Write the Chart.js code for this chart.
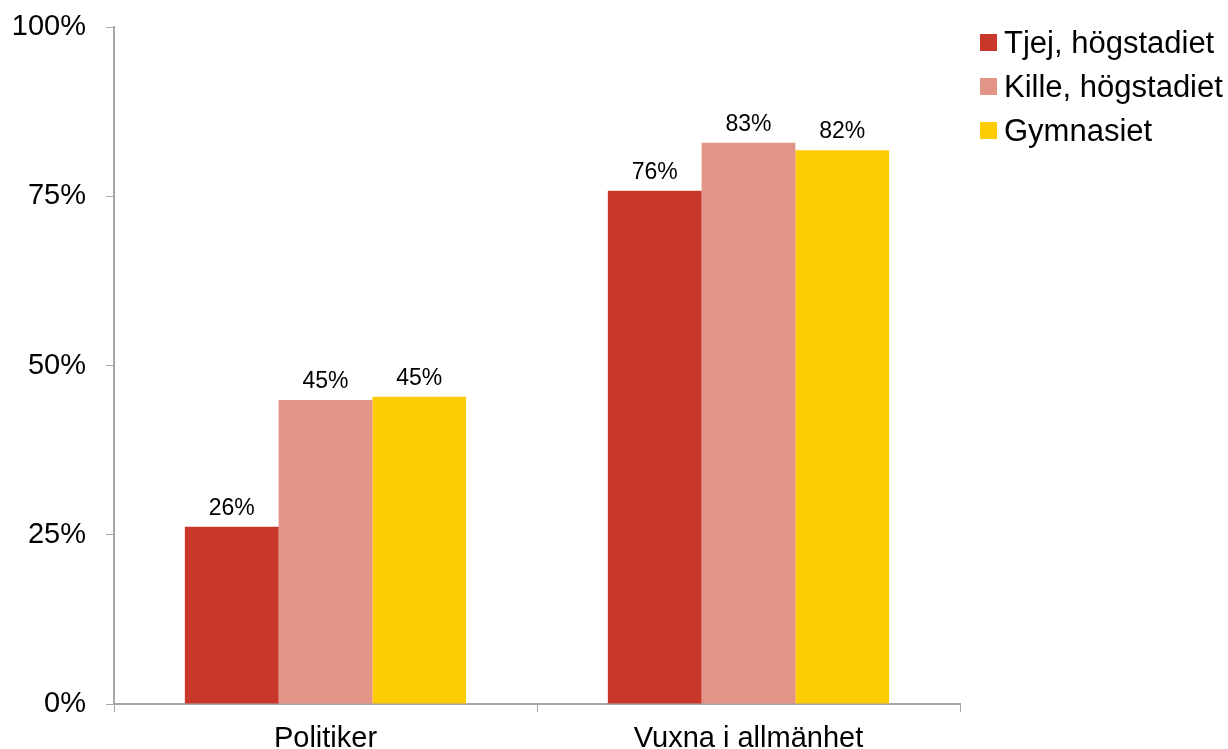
<!DOCTYPE html>
<html>
<head>
<meta charset="utf-8">
<script src="https://cdn.jsdelivr.net/npm/chart.js@4"></script>
<style>
  html, body { margin: 0; padding: 0; background: #fff; }
  #wrap { position: relative; width: 1228px; height: 749px; overflow: hidden; }
  #legend { position: absolute; left: 980px; top: 27px; font-family: "Liberation Sans", Arial, sans-serif; font-size: 31px; color: #000; }
  .item { position: relative; height: 44px; line-height: 31px; white-space: nowrap; }
  .box { position: absolute; left: 0; top: 7px; width: 17px; height: 17px; }
  .lbl { position: absolute; left: 24px; top: 0; }
</style>
</head>
<body>
<div id="wrap">
  <canvas id="c" width="1228" height="749"></canvas>
  <div id="legend"></div>
</div>
<script>
const categories = ["Politiker", "Vuxna i allmänhet"];
const seriesNames = ["Tjej, högstadiet", "Kille, högstadiet", "Gymnasiet"];
const tjejValues = [26.2, 75.8];
const killeValues = [44.9, 82.9];
const gymnasietValues = [45.4, 81.8];
const tjejLabels = ["26%", "76%"];
const killeLabels = ["45%", "83%"];
const gymnasietLabels = ["45%", "82%"];
const yTicks = [0, 25, 50, 75, 100];
const colors = ["#C9372A", "#E29486", "#FECC05"];

const seriesValues = [tjejValues, killeValues, gymnasietValues];
const seriesLabels = [tjejLabels, killeLabels, gymnasietLabels];

const FONT = '"Liberation Sans", Arial, sans-serif';
const AXIS = '#a6a6a6';

const legendEl = document.getElementById('legend');
seriesNames.forEach((n, i) => {
  const d = document.createElement('div');
  d.className = 'item';
  d.innerHTML = '<span class="box" style="background:' + colors[i] + '"></span><span class="lbl"></span>';
  d.querySelector('.lbl').textContent = n;
  legendEl.appendChild(d);
});

const valueLabels = {
  id: 'valueLabels',
  afterDatasetsDraw(chart) {
    const ctx = chart.ctx;
    ctx.save();
    ctx.font = '23px ' + FONT;
    ctx.fillStyle = '#000';
    ctx.textAlign = 'center';
    ctx.textBaseline = 'alphabetic';
    chart.data.datasets.forEach((ds, di) => {
      chart.getDatasetMeta(di).data.forEach((bar, i) => {
        ctx.fillText(seriesLabels[di][i], bar.x, bar.y - 12);
      });
    });
    ctx.restore();
  }
};

new Chart(document.getElementById('c'), {
  type: 'bar',
  data: {
    labels: categories,
    datasets: seriesNames.map((n, i) => ({
      label: n,
      data: seriesValues[i],
      backgroundColor: colors[i],
      borderWidth: 0,
      categoryPercentage: 0.665,
      barPercentage: 1.0
    }))
  },
  options: {
    responsive: false,
    animation: false,
    devicePixelRatio: 1,
    layout: { padding: { top: 27, right: 268, bottom: 0, left: 0 } },
    plugins: { legend: { display: false }, tooltip: { enabled: false } },
    scales: {
      x: {
        afterFit(s) { s.height = 45; s.paddingLeft = 0; s.paddingRight = 0; },
        grid: { offset: true, drawOnChartArea: false, drawTicks: true, tickLength: 8, color: AXIS, lineWidth: 1 },
        border: { display: true, color: AXIS, width: 2 },
        ticks: { font: { family: FONT, size: 29 }, color: '#000', padding: 10, maxRotation: 0 }
      },
      y: {
        min: 0, max: 100,
        afterFit(s) { s.width = 114; s.paddingTop = 0; s.paddingBottom = 0; },
        afterBuildTicks(s) { s.ticks = yTicks.map(v => ({ value: v })); },
        grid: { drawOnChartArea: false, drawTicks: true, tickLength: 8, color: AXIS, lineWidth: 1 },
        border: { display: true, color: AXIS, width: 2 },
        ticks: { font: { family: FONT, size: 29 }, color: '#000', padding: 20, callback: v => v + '%' }
      }
    }
  },
  plugins: [valueLabels]
});
</script>
</body>
</html>
